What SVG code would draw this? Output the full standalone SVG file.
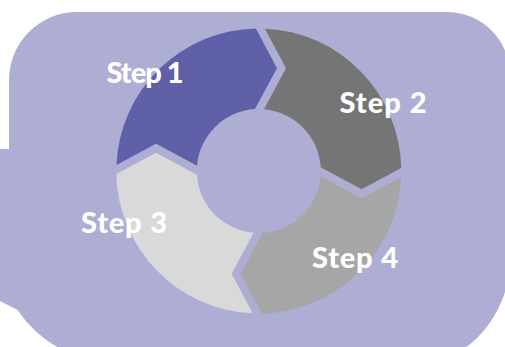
<svg xmlns="http://www.w3.org/2000/svg" xmlns:xlink="http://www.w3.org/1999/xlink" width="505" height="347" viewBox="0 0 505 347">
<style>
.bg{fill:#AEAED5}
.lbl{font-family:Lato,"Open Sans","Liberation Sans",sans-serif;font-weight:900;font-size:29px;fill:#FFFFFF;text-anchor:middle}
</style>
<defs>
<path id="seg" d="M -142.43 -4.5 A 142.5 142.5 0 0 1 -4.5 -142.43 L 17 -103 L -4.5 -61.84 A 62 62 0 0 0 -61.84 -4.5 L -103 -26 Z"/>
</defs>
<g id="background">
<path class="bg" d="M 77 12 L 447 12 A 63 63 0 0 1 510 75 L 510 259 A 111 111 0 0 1 399 370 L 117 363 A 120 120 0 0 1 17.5 310 L 0 301 L -5 301 L -5 149 L 9 149 L 9 80 A 68 68 0 0 1 77 12 Z"/>
</g>
<g id="connectors"></g>
<g id="step1">
<use xlink:href="#seg" href="#seg" transform="translate(258.8 171) rotate(0.65)" fill="#6060A8"/>
<text class="lbl" x="145" y="83" textLength="77">Step 1</text>
</g>
<g id="step2">
<use xlink:href="#seg" href="#seg" transform="translate(258.8 171) rotate(90.65)" fill="#757575"/>
<text class="lbl" x="383" y="113" textLength="87">Step 2</text>
</g>
<g id="step4">
<use xlink:href="#seg" href="#seg" transform="translate(258.8 171) rotate(180.65)" fill="#A6A6A6"/>
<text class="lbl" x="355" y="268" textLength="86">Step 4</text>
</g>
<g id="step3">
<use xlink:href="#seg" href="#seg" transform="translate(258.8 171) rotate(270.65)" fill="#D9D9D9"/>
<text class="lbl" x="124" y="233" textLength="86">Step 3</text>
</g>
</svg>
